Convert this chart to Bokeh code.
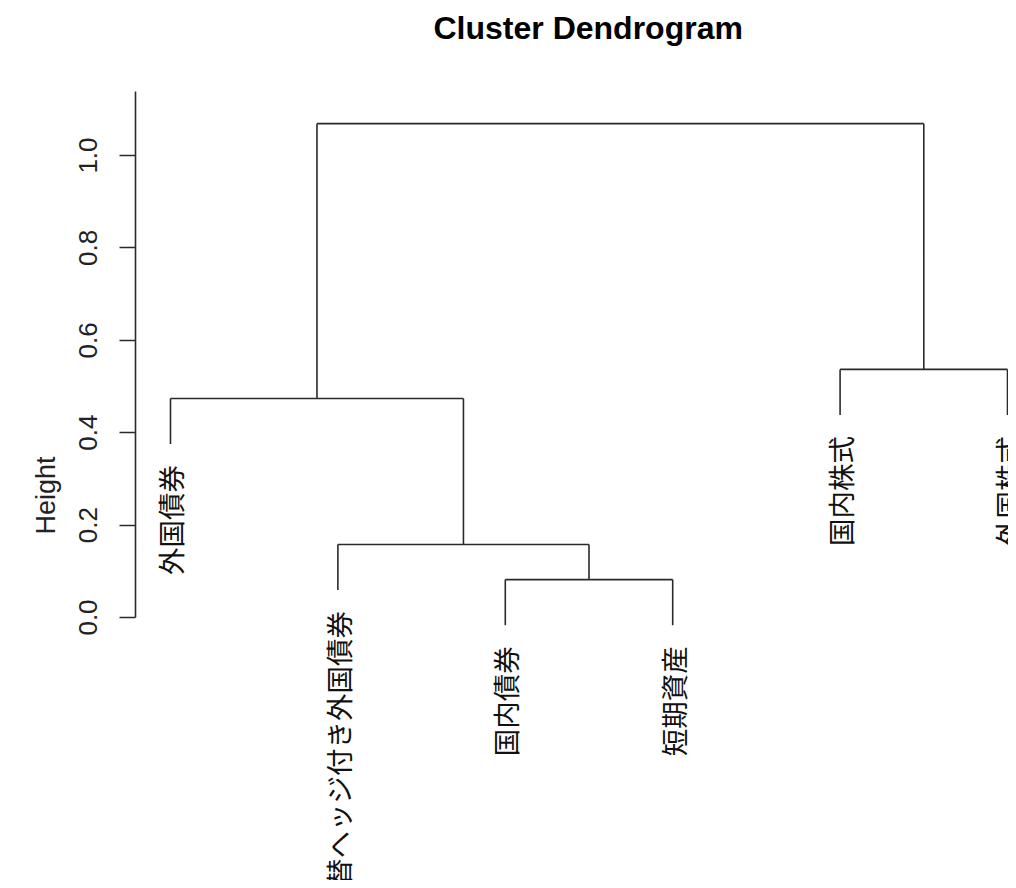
import numpy as np
from bokeh.plotting import figure
from bokeh.models import Range1d, FixedTicker, ColumnDataSource, Title
from bokeh.core.properties import value
from bokeh.embed import file_html
from bokeh.resources import INLINE

# ---- data (R hclust style) ----
leaf_labels = ["外国債券", "為替ヘッジ付き外国債券", "国内債券", "短期資産", "国内株式", "外国株式"]
# merge pairs: negative = leaf index (1-based in leaf order), positive = earlier merge step
merge_pairs = [(-3, -4), (-2, 1), (-1, 2), (-5, -6), (3, 4)]
merge_heights = [0.082, 0.158, 0.474, 0.537, 1.069]
hang_fraction = 0.1
tick_values = [0.0, 0.2, 0.4, 0.6, 0.8, 1.0]
tick_labels = ["0.0", "0.2", "0.4", "0.6", "0.8", "1.0"]

hang = hang_fraction * (max(merge_heights) - min(merge_heights))

node_x = {}
xs, ys = [], []
leaf_x, leaf_y, leaf_txt = [], [], []
for k, ((a, b), h) in enumerate(zip(merge_pairs, merge_heights), start=1):
    cx = []
    for c in (a, b):
        if c < 0:
            x = float(-c)
            bottom = h - hang
            leaf_x.append(x)
            leaf_y.append(bottom)
            leaf_txt.append(leaf_labels[-c - 1])
        else:
            x = node_x[c]
            bottom = merge_heights[c - 1]
        xs.append([x, x])
        ys.append([bottom, h])
        cx.append(x)
    xs.append([cx[0], cx[1]])
    ys.append([h, h])
    node_x[k] = (cx[0] + cx[1]) / 2

p = figure(width=1008, height=880, output_backend="svg", toolbar_location=None,
           x_axis_type=None, x_range=Range1d(0.791, 6.006),
           y_range=Range1d(-0.5693, 1.2273),
           min_border_left=135, min_border_right=0, min_border_top=50, min_border_bottom=0)
p.outline_line_color = None
p.grid.visible = False
p.background_fill_color = "white"
p.border_fill_color = "white"

p.multi_line(xs=xs, ys=ys, line_color="#2a2a2a", line_width=1.6)

src = ColumnDataSource(dict(x=leaf_x, y=leaf_y, t=leaf_txt))
p.text(x="x", y="y", text="t", source=src, angle=np.pi / 2, text_align="right",
       text_baseline="middle", y_offset=21, text_font=value("Noto Sans CJK JP"),
       text_font_size="27.5px", text_color="#111111")

ax = p.yaxis[0]
ax.ticker = FixedTicker(ticks=tick_values)
ax.major_label_overrides = {v: s for v, s in zip(tick_values, tick_labels)}
ax.bounds = (0, 1.138)
ax.minor_tick_line_color = None
ax.major_tick_in = 0
ax.major_tick_out = 16
ax.major_tick_line_width = 1.6
ax.major_tick_line_color = "#2a2a2a"
ax.axis_line_width = 1.6
ax.axis_line_color = "#2a2a2a"
ax.major_label_orientation = "parallel"
ax.major_label_standoff = 22
ax.major_label_text_font = "Liberation Sans"
ax.major_label_text_font_size = "26px"
ax.major_label_text_color = "#222222"

ytitle = Title(text="Height", align="left", offset=346, standoff=28, vertical_align="top",
               text_font="Liberation Sans", text_font_size="27px",
               text_font_style="normal", text_color="#222222")
p.add_layout(ytitle, "left")

p.title.text = "Cluster Dendrogram"
p.title.align = "left"
p.title.offset = 298
p.title.text_font = "Liberation Sans"
p.title.text_font_size = "32px"
p.title.text_font_style = "bold"
p.title.text_color = "black"

open("out.html", "w").write(file_html(p, INLINE))
